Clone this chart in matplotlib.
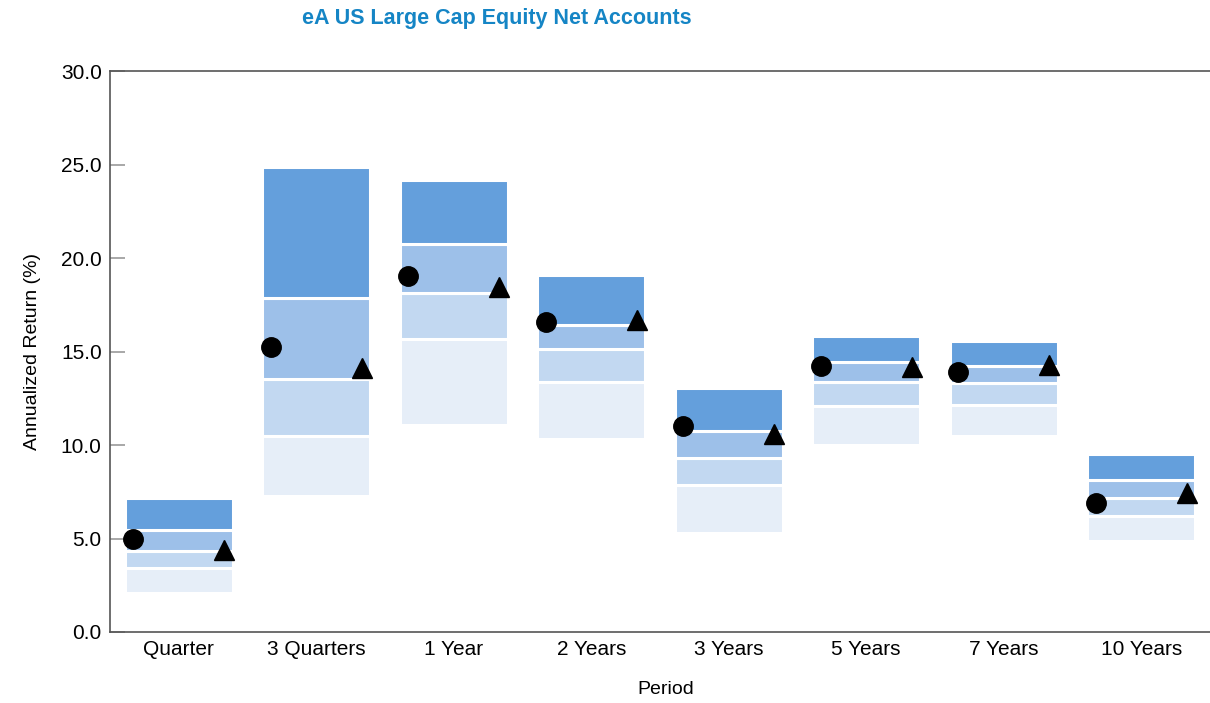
import matplotlib.pyplot as plt
import numpy as np

# Data
periods = ['Quarter', '3 Quarters', '1 Year', '2 Years', '3 Years', '5 Years', '7 Years', '10 Years']
p5  = [7.15, 24.89, 24.21, 19.11, 13.03, 15.83, 15.55, 9.54]
p25 = [5.47, 17.86, 20.77, 16.43, 10.75, 14.46, 14.22, 8.11]
p50 = [4.35, 13.56, 18.13, 15.12, 9.32, 13.35, 13.31, 7.18]
p75 = [3.40, 10.50, 15.66, 13.38, 7.87, 12.10, 12.13, 6.23]
p95 = [2.06, 7.25, 11.06, 10.34, 5.30, 9.98, 10.48, 4.85]
circle_vals = [4.95, 15.23, 19.07, 16.60, 11.00, 14.22, 13.92, 6.89]
triangle_vals = [4.38, 14.10, 18.47, 16.70, 10.57, 14.20, 14.30, 7.46]

band_colors = ['#E6EEF8', '#C2D8F1', '#9DC0E9', '#649FDC']

x = np.arange(len(periods))
width = 0.785

fig = plt.figure(figsize=(12.1, 7.03), dpi=100)
ax = fig.add_axes([0.0909, 0.101, 0.9091, 0.7976])

levels = [p95, p75, p50, p25, p5]
for i in range(4):
    lo = np.array(levels[i])
    hi = np.array(levels[i + 1])
    ax.bar(x, hi - lo, bottom=lo, width=width, color=band_colors[i],
           edgecolor='white', linewidth=2.2, zorder=2)

ax.plot(x - 0.33, circle_vals, 'o', color='black', markersize=14, zorder=3)
ax.plot(x + 0.33, triangle_vals, '^', color='black', markersize=15, zorder=3)

ax.set_xlim(-0.5, len(periods) - 0.5)
ax.set_ylim(0, 30)
ax.set_yticks(np.arange(0, 30.1, 5))
ax.set_yticklabels([f'{v:.1f}' for v in np.arange(0, 30.1, 5)])
ax.set_xticks(x)
ax.set_xticklabels(periods)

font = ['Liberation Sans', 'DejaVu Sans']
for lab in ax.get_yticklabels() + ax.get_xticklabels():
    lab.set_family(font)
    lab.set_fontsize(15)

ax.tick_params(axis='y', direction='in', length=11, width=1.2, color='#999999', pad=6)
ax.tick_params(axis='x', length=0, pad=6)

for s in ['left', 'top', 'bottom']:
    ax.spines[s].set_color('#555555')
    ax.spines[s].set_linewidth(1.2)
ax.spines['right'].set_visible(False)

ax.set_ylabel('Annualized Return (%)', family=font, fontsize=14, labelpad=14)
ax.set_xlabel('Period', family=font, fontsize=14)
ax.xaxis.set_label_coords(0.505, -0.088)

fig.text(0.411, 0.974, 'eA US Large Cap Equity Net Accounts', ha='center', va='center',
         color='#1585C5', fontsize=15.5, fontweight='bold', family=font)

fig.savefig('out.png', dpi=100)
